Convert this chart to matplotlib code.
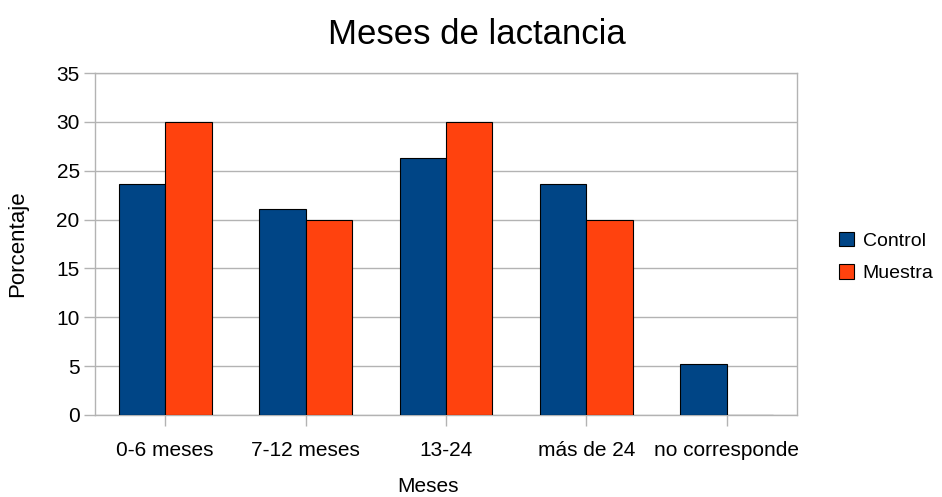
import numpy as np
import matplotlib
matplotlib.use("Agg")
import matplotlib.pyplot as plt

plt.rcParams['font.family'] = ['Liberation Sans', 'DejaVu Sans']

categories = ["0-6 meses", "7-12 meses", "13-24", "más de 24", "no corresponde"]
control = [23.68, 21.05, 26.32, 23.68, 5.26]
muestra = [30, 20, 30, 20, 0]
yticks = [0, 5, 10, 15, 20, 25, 30, 35]

blue = "#004586"
orange = "#ff420e"
grey = "#b3b3b3"

fig = plt.figure(figsize=(9.42, 4.97), dpi=100)
ax = fig.add_axes([95 / 942, 82 / 497, 702 / 942, 342 / 497])

x = np.arange(len(categories))
w = 0.33
ax.bar(x - w / 2, control, w, color=blue, edgecolor="black", linewidth=0.8, label="Control", zorder=3)
ax.bar(x + w / 2, muestra, w, color=orange, edgecolor="black", linewidth=0.8, label="Muestra", zorder=3)

ax.set_xlim(-0.5, len(categories) - 0.5)
ax.set_ylim(0, 35)
ax.set_yticks(yticks)
ax.set_xticks(x)
ax.set_xticklabels(categories)
ax.yaxis.grid(True, color=grey, linewidth=1, zorder=0)
ax.set_axisbelow(True)
for s in ax.spines.values():
    s.set_color(grey)
    s.set_linewidth(1)
ax.tick_params(axis="both", colors=grey, length=8, width=1, labelsize=15, labelcolor="black")
ax.tick_params(axis="x", pad=11)
ax.tick_params(axis="y", pad=3)

fig.suptitle("Meses de lactancia", fontsize=25, x=477 / 942, y=1 - 44 / 497, va="baseline")
ax.set_xlabel("Meses", fontsize=15)
ax.xaxis.set_label_coords((428 - 95) / 702, (415 - 487) / 342)
ax.xaxis.label.set_va("center")
ax.set_ylabel("Porcentaje", fontsize=16, labelpad=20)

fig.legend(loc="center left", bbox_to_anchor=(821 / 942, 1 - 257 / 497), frameon=False,
           fontsize=14, handlelength=0.8, handleheight=0.8, handletextpad=0.45, labelspacing=0.75)

fig.savefig("out.png", dpi=100)
